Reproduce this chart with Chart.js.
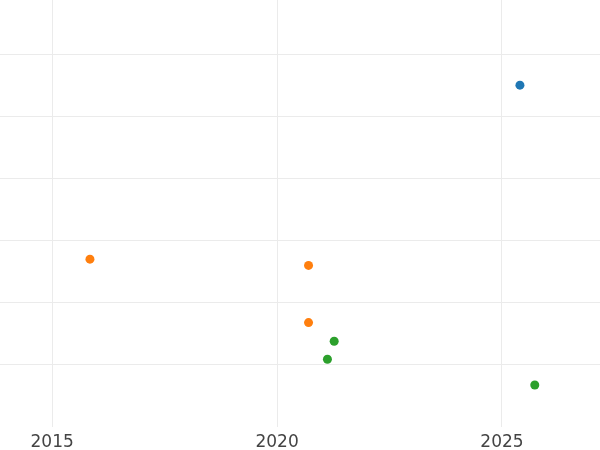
<!DOCTYPE html>
<html>
<head>
<meta charset="utf-8">
<script src="https://cdn.jsdelivr.net/npm/chart.js@4"></script>
<style>
  body { margin: 0; background: #fff; }
  #wrap { width: 600px; height: 450px; }
</style>
</head>
<body>
<div id="wrap"><canvas id="chart" width="600" height="450"></canvas></div>
<script>
// values (x = year, y = unlabelled units)
const blueX = [2025.4];
const blueY = [5.5];
const orangeX = [2015.84, 2020.7, 2020.7];
const orangeY = [2.7, 2.6, 1.68];
const greenX = [2021.27, 2021.12, 2025.73];
const greenY = [1.38, 1.09, 0.675];
const xTicks = [2015, 2020, 2025];
const yTicks = [1, 2, 3, 4, 5, 6];

function pts(xs, ys) {
    return xs.map(function(x, i) { return { x: x, y: ys[i] }; });
}

function ds(xs, ys, color) {
    return {
        data: pts(xs, ys),
        backgroundColor: color,
        borderColor: color,
        borderWidth: 0,
        pointRadius: 4.5,
        pointHoverRadius: 4.5
    };
}

var ctx = document.getElementById('chart').getContext('2d');
new Chart(ctx, {
    type: 'scatter',
    data: {
        datasets: [
            ds(blueX, blueY, '#1f77b4'),
            ds(orangeX, orangeY, '#ff7f0e'),
            ds(greenX, greenY, '#2ca02c')
        ]
    },
    options: {
        responsive: false,
        animation: false,
        layout: { padding: 0, autoPadding: false },
        scales: {
            x: {
                type: 'linear',
                min: 2013.84,
                max: 2027.18,
                afterBuildTicks: function(axis) {
                    axis.ticks = xTicks.map(function(v) { return { value: v }; });
                },
                afterFit: function(axis) { axis.height = 23; },
                grid: { color: '#ebebeb', drawTicks: false },
                border: { display: false },
                ticks: {
                    color: '#444',
                    padding: 5,
                    font: { family: 'DejaVu Sans', size: 17 },
                    callback: function(v) { return String(v); }
                }
            },
            y: {
                min: 0,
                max: 6.87,
                afterBuildTicks: function(axis) {
                    axis.ticks = yTicks.map(function(v) { return { value: v }; });
                },
                grid: { color: '#ebebeb', drawTicks: false },
                border: { display: false },
                ticks: { display: false }
            }
        },
        plugins: {
            legend: { display: false },
            tooltip: { enabled: false }
        }
    }
});
</script>
</body>
</html>
